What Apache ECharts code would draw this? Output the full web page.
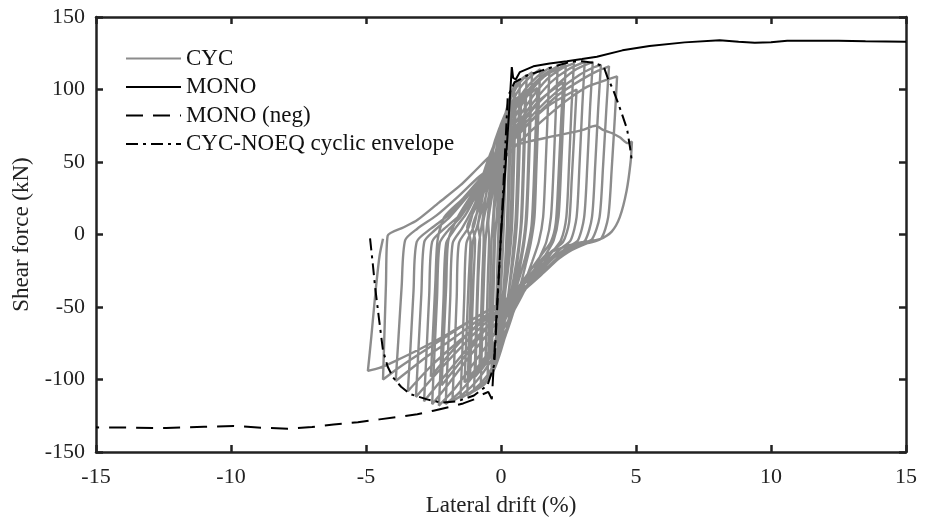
<!DOCTYPE html>
<html>
<head>
<meta charset="utf-8">
<script src="https://cdn.jsdelivr.net/npm/echarts@6/dist/echarts.min.js"></script>
<style>
  html, body { margin: 0; padding: 0; background: #fff; }
  #chart { width: 930px; height: 522px; }
</style>
</head>
<body>
<div id="chart"></div>
<script>
// Axis ranges and tick spacing
const driftRange = [-15, 15];
const driftStep = 5;
const forceRange = [-150, 150];
const forceStep = 50;

// Monotonic pushover, positive direction: [drift %, shear kN]
const monoPos = [
  [0, 0], [0.15, 42], [0.3, 85], [0.4, 115.5], [0.45, 108], [0.55, 107],
  [0.7, 112], [1.2, 116], [1.8, 118], [2.44, 119.5], [3.0, 121], [3.55, 122.6],
  [4.5, 127], [5.5, 130], [6.8, 132.5], [8.1, 134], [8.8, 133], [9.4, 132.2],
  [10.0, 132.6], [10.6, 133.6], [11.5, 133.7], [12.5, 133.6], [13.5, 133.3], [15, 133]
];

// Monotonic pushover, negative direction
const monoNeg = [
  [0, 0], [-0.15, -50], [-0.25, -84], [-0.34, -113.5], [-0.47, -108.5],
  [-0.65, -110], [-0.9, -113], [-1.4, -116.5], [-1.9, -119], [-2.5, -121.5],
  [-3.1, -124], [-3.7, -125.5], [-4.5, -127.5], [-5.3, -129.5], [-6.2, -131],
  [-7.0, -132.8], [-7.9, -134], [-8.8, -133.3], [-9.9, -132], [-11.0, -132.6],
  [-12.4, -133.5], [-13.7, -133.2], [-15, -133]
];

// Cyclic envelope of the companion specimen
const cycEnvelope = [
  [-4.85, -2.7], [-4.75, -20], [-4.67, -35], [-4.52, -58], [-4.37, -80],
  [-4.2, -91], [-4.0, -98.6], [-3.7, -105], [-3.37, -110], [-2.74, -113.7],
  [-2.2, -116], [-1.6, -115], [-1.0, -111], [-0.5, -104], [-0.25, -90],
  [0, 0], [0.25, 95], [0.5, 105], [1.0, 110], [1.5, 113], [2.0, 116],
  [2.55, 119], [3.0, 119.5], [3.4, 118.5], [3.8, 116], [3.95, 108],
  [4.15, 100], [4.35, 90], [4.5, 82], [4.67, 72.6], [4.78, 60], [4.85, 50]
];

// Cyclic test, primary and trailing loops in load order: [drift %, shear kN]
const cycLoops = [
  [[0, 0], [0.04, 15], [0.08, 32], [0.06, 18], [0.03, 2], [0, -12], [-0.04, -25], [-0.08, -32],
   [-0.06, -18], [-0.03, -2]],
  [[0, 10], [0.05, 28], [0.1, 45], [0.13, 52], [0.1, 32], [0.07, 8], [0.03, -10], [-0.03, -30],
   [-0.08, -45], [-0.13, -52], [-0.1, -30], [-0.07, -8]],
  [[-0.03, 8], [0.03, 30], [0.1, 50], [0.16, 62], [0.13, 40], [0.1, 15], [0.05, -8], [0, -25],
   [-0.06, -42], [-0.12, -56], [-0.16, -62], [-0.13, -40], [-0.1, -15], [-0.07, 0]],
  [[-0.03, 20], [0.03, 45], [0.1, 63], [0.2, 75], [0.17, 52], [0.13, 22], [0.09, 0], [0.04, -22],
   [-0.03, -45], [-0.1, -60], [-0.2, -70], [-0.17, -46], [-0.13, -18], [-0.1, 0]],
  [[-0.06, 25], [0, 45], [0.08, 65], [0.2, 84], [0.35, 95], [0.31, 66], [0.26, 32], [0.22, 6],
   [0.16, -18], [0.08, -42], [-0.02, -63], [-0.15, -80], [-0.35, -92], [-0.31, -62], [-0.26, -28],
   [-0.22, -3]],
  [[-0.15, 15], [-0.07, 38], [0.02, 58], [0.15, 78], [0.32, 94], [0.5, 103], [0.45, 72], [0.4, 36],
   [0.35, 8], [0.28, -12], [0.18, -35], [0.07, -56], [-0.06, -74], [-0.25, -90], [-0.5, -100],
   [-0.45, -70], [-0.4, -35], [-0.35, -5]],
  [[-0.28, 15], [-0.18, 40], [-0.05, 60], [0.15, 76], [0.38, 85], [0.34, 58], [0.29, 25], [0.24, 0],
   [0.15, -25], [0.05, -45], [-0.08, -62], [-0.22, -75], [-0.38, -82], [-0.34, -55], [-0.29, -22],
   [-0.25, -2]],
  [[-0.27, 10], [-0.16, 32], [-0.05, 54], [0.1, 74], [0.3, 92], [0.5, 102], [0.7, 107], [0.65, 76],
   [0.6, 40], [0.54, 10], [0.45, -10], [0.33, -32], [0.2, -52], [0.05, -70], [-0.15, -86],
   [-0.4, -98], [-0.75, -105], [-0.7, -72], [-0.64, -36], [-0.58, -6]],
  [[-0.5, 10], [-0.38, 32], [-0.22, 54], [-0.02, 72], [0.25, 86], [0.55, 92], [0.5, 62], [0.45, 28],
   [0.4, 3], [0.3, -18], [0.15, -40], [-0.02, -58], [-0.22, -74], [-0.4, -84], [-0.58, -90],
   [-0.53, -60], [-0.48, -26], [-0.44, -3]],
  [[-0.47, 8], [-0.32, 28], [-0.17, 50], [0, 68], [0.2, 86], [0.45, 99], [0.7, 106], [0.95, 110],
   [0.9, 78], [0.84, 42], [0.78, 12], [0.68, -8], [0.54, -28], [0.38, -48], [0.2, -66], [0, -80],
   [-0.25, -93], [-0.6, -103], [-1.0, -108], [-0.94, -75], [-0.88, -38], [-0.81, -6]],
  [[-0.7, 8], [-0.55, 28], [-0.38, 50], [-0.15, 68], [0.15, 83], [0.45, 92], [0.75, 96], [0.7, 66],
   [0.64, 30], [0.58, 5], [0.47, -16], [0.3, -38], [0.1, -57], [-0.15, -73], [-0.45, -86],
   [-0.8, -95], [-0.75, -64], [-0.69, -28], [-0.64, -3]],
  [[-0.66, 7], [-0.48, 24], [-0.3, 44], [-0.1, 62], [0.1, 78], [0.35, 93], [0.7, 105], [1.15, 112],
   [1.09, 80], [1.03, 44], [0.96, 12], [0.85, -7], [0.68, -25], [0.5, -43], [0.3, -60], [0.08, -75],
   [-0.2, -90], [-0.6, -102], [-1.25, -111], [-1.19, -78], [-1.12, -40], [-1.05, -6]],
  [[-0.85, 8], [-0.68, 26], [-0.48, 46], [-0.22, 65], [0.1, 80], [0.5, 92], [0.9, 98], [0.85, 68],
   [0.79, 32], [0.73, 6], [0.6, -15], [0.4, -37], [0.18, -56], [-0.1, -72], [-0.5, -87],
   [-0.95, -98], [-0.9, -66], [-0.84, -30], [-0.78, -3]],
  [[-0.85, 6], [-0.62, 22], [-0.4, 40], [-0.18, 58], [0.05, 74], [0.3, 87], [0.7, 101], [1.1, 109],
   [1.45, 114], [1.38, 82], [1.31, 45], [1.24, 12], [1.1, -6], [0.9, -22], [0.68, -38], [0.45, -54],
   [0.2, -68], [-0.1, -83], [-0.5, -97], [-1.0, -107], [-1.5, -113], [-1.43, -80], [-1.36, -42],
   [-1.28, -6]],
  [[-1.0, 6], [-0.8, 24], [-0.55, 44], [-0.25, 62], [0.1, 78], [0.6, 92], [1.1, 100], [1.04, 70],
   [0.98, 33], [0.9, 6], [0.75, -14], [0.52, -34], [0.25, -53], [-0.1, -70], [-0.55, -86],
   [-1.15, -100], [-1.09, -68], [-1.02, -32], [-0.96, -4]],
  [[-1.05, 5], [-0.78, 20], [-0.5, 38], [-0.22, 55], [0.05, 70], [0.4, 85], [0.85, 99], [1.35, 109],
   [1.8, 115], [1.73, 84], [1.65, 46], [1.56, 12], [1.4, -5], [1.15, -19], [0.88, -33], [0.6, -47],
   [0.3, -61], [0, -74], [-0.4, -88], [-0.9, -101], [-1.4, -110], [-1.8, -115], [-1.72, -82],
   [-1.64, -43], [-1.56, -6]],
  [[-1.2, 5], [-0.95, 22], [-0.65, 42], [-0.3, 60], [0.1, 75], [0.7, 91], [1.35, 101], [1.28, 71],
   [1.21, 34], [1.13, 6], [0.95, -12], [0.68, -30], [0.35, -49], [0, -66], [-0.6, -85],
   [-1.35, -102], [-1.28, -70], [-1.2, -33], [-1.13, -4]],
  [[-1.25, 5], [-0.95, 18], [-0.6, 35], [-0.3, 52], [0, 66], [0.4, 82], [0.9, 97], [1.5, 109],
   [2.1, 116], [2.03, 85], [1.95, 47], [1.85, 12], [1.68, -5], [1.4, -17], [1.1, -30], [0.75, -43],
   [0.4, -55], [0, -68], [-0.5, -83], [-1, -97], [-1.55, -109], [-2.05, -117], [-1.97, -84],
   [-1.88, -44], [-1.79, -6]],
  [[-1.45, 4], [-1.1, 16], [-0.7, 32], [-0.35, 48], [0, 63], [0.45, 79], [0.95, 95], [1.6, 109],
   [2.4, 117], [2.32, 86], [2.23, 48], [2.13, 12], [1.95, -4], [1.65, -14], [1.3, -26], [0.9, -38],
   [0.45, -50], [0, -62], [-0.55, -77], [-1.1, -91], [-1.7, -106], [-2.3, -118], [-2.22, -85],
   [-2.13, -45], [-2.03, -6]],
  [[-1.7, 4], [-1.3, 14], [-0.85, 30], [-0.4, 46], [0, 60], [0.5, 76], [1.05, 92], [1.7, 107],
   [2.3, 115], [2.7, 118], [2.61, 87], [2.52, 48], [2.42, 12], [2.22, -4], [1.9, -12], [1.5, -22],
   [1.05, -34], [0.55, -46], [0, -57], [-0.6, -71], [-1.25, -86], [-1.9, -102], [-2.55, -117],
   [-2.47, -84], [-2.37, -44], [-2.27, -6]],
  [[-1.95, 3], [-1.5, 12], [-0.95, 28], [-0.45, 44], [0, 58], [0.55, 74], [1.15, 90], [1.85, 105],
   [2.5, 114], [3.1, 119], [3.01, 88], [2.91, 49], [2.8, 12], [2.58, -4], [2.2, -10], [1.7, -19],
   [1.15, -31], [0.6, -43], [0, -54], [-0.7, -67], [-1.4, -82], [-2.15, -99], [-2.85, -115],
   [-2.76, -82], [-2.66, -42], [-2.55, -5]],
  [[-2.1, 4], [-1.5, 14], [-0.9, 30], [-0.35, 47], [0.1, 60], [0.7, 76], [1.4, 92], [2.3, 105],
   [2.22, 76], [2.13, 40], [2.03, 8], [1.85, -5], [1.5, -14], [1.0, -27], [0.5, -40], [0, -52],
   [-0.6, -66], [-1.3, -83], [-2.2, -104], [-2.12, -72], [-2.03, -36], [-1.95, -4]],
  [[-1.6, 12], [-1.1, 27], [-0.5, 43], [0, 56], [0.6, 72], [1.25, 88], [2.0, 102], [2.7, 113],
   [3.4, 119], [3.3, 88], [3.2, 49], [3.08, 12], [2.85, -4], [2.45, -9], [1.9, -17], [1.3, -29],
   [0.65, -42], [0, -52], [-0.75, -64], [-1.55, -79], [-2.35, -95], [-3.15, -112], [-3.06, -80],
   [-2.95, -41], [-2.84, -5]],
  [[-2.45, 3], [-1.9, 12], [-1.25, 26], [-0.6, 41], [0, 55], [0.6, 70], [1.3, 85], [2.1, 99],
   [2.9, 110], [3.4, 115], [3.7, 117], [3.6, 87], [3.49, 48], [3.37, 12], [3.12, -4], [2.7, -8],
   [2.1, -16], [1.45, -28], [0.7, -41], [0, -51], [-0.8, -62], [-1.65, -75], [-2.55, -90],
   [-3.45, -108], [-3.35, -77], [-3.24, -39], [-3.12, -5]],
  [[-2.6, 4], [-1.9, 14], [-1.1, 30], [-0.45, 45], [0.1, 57], [0.8, 72], [1.7, 88], [2.8, 100],
   [2.72, 72], [2.62, 38], [2.52, 8], [2.3, -5], [1.85, -12], [1.2, -25], [0.6, -37], [0, -48],
   [-0.8, -61], [-1.7, -78], [-2.6, -98], [-2.52, -68], [-2.43, -33], [-2.35, -4]],
  [[-2.1, 12], [-1.4, 25], [-0.7, 40], [0, 54], [0.6, 68], [1.3, 82], [2.1, 96], [3.0, 107],
   [3.6, 113], [4.0, 116], [3.9, 86], [3.78, 47], [3.65, 12], [3.38, -3], [2.95, -7], [2.3, -14],
   [1.6, -26], [0.8, -39], [0, -49], [-0.9, -60], [-1.8, -72], [-2.8, -85], [-3.9, -101],
   [-3.8, -72], [-3.68, -36], [-3.55, -4]],
  [[-3.1, 4], [-2.4, 13], [-1.6, 26], [-0.8, 40], [0, 51], [0.7, 64], [1.5, 78], [2.4, 92],
   [3.2, 102], [3.8, 106], [4.3, 109], [4.22, 82], [4.1, 45], [3.97, 12], [3.7, -3], [3.2, -6],
   [2.5, -12], [1.7, -23], [0.9, -36], [0, -47], [-1, -58], [-2, -70], [-3, -82], [-3.8, -92],
   [-4.37, -100], [-4.32, -70], [-4.26, -34], [-4.2, -1]],
  [[-3.6, 5], [-3.1, 10], [-2.3, 22], [-1.5, 34], [-0.9, 45], [-0.4, 54], [0.2, 60], [1.0, 64],
   [2.0, 68], [3.0, 72], [3.5, 75], [3.8, 72], [4.1, 70], [4.4, 67], [4.7, 63], [4.85, 64],
   [4.8, 50], [4.65, 30], [4.4, 12], [4.1, 2], [3.7, -3], [2.8, -6], [2.0, -11], [1.55, -16],
   [1.07, -30], [0.5, -40], [0, -47], [-1, -58], [-2, -69], [-3, -79], [-4, -88], [-4.5, -92],
   [-4.93, -94], [-4.8, -70], [-4.65, -40], [-4.5, -15], [-4.37, -3]]
];

const cycPath = cycLoops.flat();

const chart = echarts.init(document.getElementById('chart'), null, { renderer: 'canvas' });

const serifFont = 'Liberation Serif';
const axisColor = '#222';

function lineSeries(name, data, color, width, dash, smooth) {
  return {
    name: name,
    type: 'line',
    data: data,
    showSymbol: false,
    symbol: 'none',
    smooth: smooth || false,
    lineStyle: { color: color, width: width, type: dash || 'solid' },
    itemStyle: { color: color },
    emphasis: { disabled: true },
    z: 2
  };
}

const option = {
  animation: false,
  backgroundColor: '#fff',
  grid: { left: 96, right: 24, top: 17, bottom: 67, containLabel: false },
  legend: {
    orient: 'vertical',
    left: 120,
    top: 42,
    itemWidth: 55,
    itemHeight: 14,
    itemGap: 5.5,
    itemStyle: { opacity: 0 },
    textStyle: { fontFamily: serifFont, fontSize: 23, color: '#111', lineHeight: 22 },
    data: ['CYC', 'MONO', 'MONO (neg)', 'CYC-NOEQ cyclic envelope']
  },
  xAxis: [
    {
      type: 'value',
      min: driftRange[0], max: driftRange[1], interval: driftStep,
      name: 'Lateral drift (%)',
      nameLocation: 'middle',
      nameGap: 42,
      nameTextStyle: { fontFamily: serifFont, fontSize: 23, color: '#222' },
      axisLine: { show: true, onZero: false, lineStyle: { color: axisColor, width: 2.5 } },
      axisTick: { show: true, inside: true, length: 7, lineStyle: { color: axisColor, width: 2.5 } },
      axisLabel: { fontFamily: serifFont, fontSize: 22, color: '#222', margin: 14 },
      splitLine: { show: false }
    },
    {
      type: 'value', position: 'top',
      min: driftRange[0], max: driftRange[1], interval: driftStep,
      axisLine: { show: true, onZero: false, lineStyle: { color: axisColor, width: 2.5 } },
      axisTick: { show: true, inside: true, length: 7, lineStyle: { color: axisColor, width: 2.5 } },
      axisLabel: { show: false },
      splitLine: { show: false }
    }
  ],
  yAxis: [
    {
      type: 'value',
      min: forceRange[0], max: forceRange[1], interval: forceStep,
      name: 'Shear force (kN)',
      nameLocation: 'middle',
      nameGap: 62,
      nameTextStyle: { fontFamily: serifFont, fontSize: 23, color: '#222' },
      axisLine: { show: true, onZero: false, lineStyle: { color: axisColor, width: 2.5 } },
      axisTick: { show: true, inside: true, length: 7, lineStyle: { color: axisColor, width: 2.5 } },
      axisLabel: { fontFamily: serifFont, fontSize: 22, color: '#222', margin: 11 },
      splitLine: { show: false }
    },
    {
      type: 'value', position: 'right',
      min: forceRange[0], max: forceRange[1], interval: forceStep,
      axisLine: { show: true, onZero: false, lineStyle: { color: axisColor, width: 2.5 } },
      axisTick: { show: true, inside: true, length: 7, lineStyle: { color: axisColor, width: 2.5 } },
      axisLabel: { show: false },
      splitLine: { show: false }
    }
  ],
  series: [
    lineSeries('CYC', cycPath, '#8c8c8c', 2.4, 'solid', 0.25),
    lineSeries('MONO', monoPos, '#000', 2),
    lineSeries('MONO (neg)', monoNeg, '#000', 2, [17, 10]),
    lineSeries('CYC-NOEQ cyclic envelope', cycEnvelope, '#000', 2, [12, 5, 3, 5])
  ]
};

chart.setOption(option);
</script>
</body>
</html>
